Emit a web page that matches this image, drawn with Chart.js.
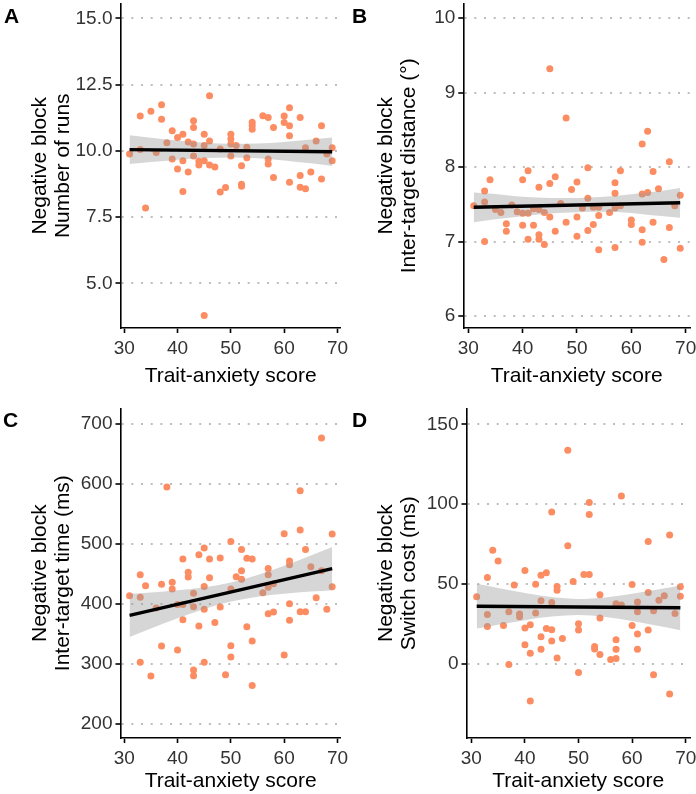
<!DOCTYPE html>
<html><head><meta charset="utf-8">
<script src="https://cdn.jsdelivr.net/npm/chart.js@4.4.1/dist/chart.umd.min.js"></script>
<style>
html,body{margin:0;padding:0;background:#fff;overflow:hidden;}
#wrap{position:relative;width:696px;height:794px;overflow:hidden;background:#fff;}
canvas{position:absolute;}
.lbl{position:absolute;font:bold 21px 'Liberation Sans',Arial,sans-serif;line-height:21px;color:#000;}
</style></head><body>
<div id="wrap">
<canvas id="cA" width="350" height="397" style="left:0px;top:0px"></canvas>
<canvas id="cB" width="346" height="397" style="left:350px;top:0px"></canvas>
<canvas id="cC" width="350" height="410" style="left:0px;top:397px"></canvas>
<canvas id="cD" width="346" height="410" style="left:350px;top:397px"></canvas>
<div class="lbl" style="left:4px;top:5px">A</div>
<div class="lbl" style="left:352px;top:5px">B</div>
<div class="lbl" style="left:3px;top:409px">C</div>
<div class="lbl" style="left:352px;top:409px">D</div>
</div>
<script>
// ---------- shared ----------
const xTickValues = [30, 40, 50, 60, 70];
const xTickLabels = ['30', '40', '50', '60', '70'];
const xTitle = 'Trait-anxiety score';
const fitX = [31, 35, 40, 45, 50, 55, 60, 65, 69];
const lineX = [31, 69];

// ---------- panel A: number of runs ----------
const aX = [31,33,33,34,35,36,37,37,38,39,39,40,40,41,41,41,42,42,43,43,43,43,44,44,45,45,45,45,46,46,46,47,48,48,49,50,50,50,50,51,52,52,52,53,53,54,54,54,56,57,57,57,58,58,60,60,61,61,61,61,63,63,63,64,64,65,66,67,67,68,69,69];
const aY = [9.88,11.32,10.05,7.85,11.5,9.94,11.74,11.19,10.31,10.76,9.69,10.51,9.32,10.63,9.63,8.47,10.34,9.2,11.14,10.88,10.26,9.81,9.61,9.47,10.63,10.2,9.63,3.79,12.08,10.37,9.47,9.39,10.07,8.45,8.62,10.63,10.45,10.26,9.81,10.2,9.44,8.74,8.67,10.14,9.74,11.08,10.96,10.82,11.33,11.26,9.69,9.51,10.88,9.0,11.32,11.07,11.63,10.95,10.57,8.82,11.26,9.07,8.63,10.12,8.57,9.2,10.37,10.95,8.94,9.88,10.12,9.63];
const aLine = [10.05, 9.97];
const aUpper = [10.59, 10.50, 10.39, 10.31, 10.27, 10.28, 10.34, 10.43, 10.51];
const aLower = [9.51, 9.58, 9.67, 9.73, 9.75, 9.72, 9.64, 9.53, 9.43];
const aTickValues = [5, 7.5, 10, 12.5, 15];
const aTickLabels = ['5.0', '7.5', '10.0', '12.5', '15.0'];
const aTitle = ['Negative block', 'Number of runs'];

// ---------- panel B: inter-target distance ----------
const bX = [31,33,33,33,34,35,36,37,37,38,39,40,40,40,41,41,41,42,42,43,43,43,43,44,44,45,45,45,46,46,47,48,48,49,50,50,50,51,52,52,52,53,53,54,54,54,56,57,57,57,57,58,58,60,60,62,62,62,62,63,63,64,64,65,66,67,67,68,69,69];
const bY = [7.48,7.68,7.53,7.00,7.83,7.43,7.39,7.24,7.14,7.49,7.40,7.83,7.38,7.22,7.95,7.38,7.03,7.44,7.22,7.73,7.43,7.09,7.03,7.39,6.96,9.32,7.78,7.33,7.87,7.14,7.51,8.66,7.26,7.70,7.80,7.33,7.07,7.45,7.99,7.58,7.15,7.46,7.23,7.46,7.35,6.89,7.39,7.79,7.65,7.45,6.92,7.95,7.48,7.29,7.23,8.31,7.64,7.16,6.99,8.48,7.66,7.94,7.26,7.71,6.76,8.07,7.19,7.48,7.62,6.91];
const bLine = [7.46, 7.52];
const bUpper = [7.66, 7.64, 7.60, 7.585, 7.585, 7.60, 7.635, 7.675, 7.72];
const bLower = [7.26, 7.30, 7.34, 7.375, 7.395, 7.40, 7.385, 7.345, 7.32];
const bTickValues = [6, 7, 8, 9, 10];
const bTickLabels = ['6', '7', '8', '9', '10'];
const bTitle = ['Negative block', 'Inter-target distance (°)'];

// ---------- panel C: inter-target time ----------
const cX = [31,33,33,33,34,35,36,37,37,38,39,39,40,40,41,41,41,42,42,43,43,43,43,44,44,45,45,45,45,46,46,47,48,48,49,50,50,50,50,51,52,52,52,53,53,54,54,54,56,57,57,57,57,58,58,60,60,61,61,61,61,63,63,63,64,64,65,66,67,67,68,69,69];
const cY = [413.9,448.9,411.1,302.8,430.6,280,393.3,432.8,330,595,436.1,425,399.4,323.3,475,399.4,373.9,452.8,445,417.8,395.6,290,280.6,482.2,363.3,493.3,429.4,391.1,302.8,475,443.9,369.4,476.7,395,282.2,504.4,425,330.6,311.7,445.6,491,455.6,441.1,476.1,362.2,475,338.3,264.4,418.9,459.4,448.9,427.8,383.9,433.9,386.7,517.2,315,471.7,465.6,400.6,372.8,588.9,523.3,387.2,491,387.2,462.2,410.6,676.7,455.6,391.1,516.7,428.9];
const cLine = [381, 459];
const cUpper = [417, 419.2, 422.8, 427.8, 436, 448.3, 463.8, 480.8, 495];
const cLower = [345, 359.2, 376.2, 391.6, 404, 412.1, 417.2, 420.8, 423];
const cTickValues = [200, 300, 400, 500, 600, 700];
const cTickLabels = ['200', '300', '400', '500', '600', '700'];
const cTitle = ['Negative block', 'Inter-target time (ms)'];

// ---------- panel D: switch cost ----------
const dX = [31,33,33,33,34,35,36,37,37,38,39,39,40,40,40,41,41,41,42,42,43,43,43,43,44,44,45,45,45,45,46,46,46,47,48,48,49,50,50,50,51,52,52,52,53,53,54,54,54,56,57,57,57,57,58,58,60,60,61,61,61,61,63,63,63,64,64,65,66,67,67,68,69,69];
const dY = [42.1,54.2,31.0,23.5,71.25,64.4,24.2,32.7,-0.2,49.4,31.25,29.6,58.5,22.5,12.1,24.6,6.7,-23.1,50.0,31.9,55.6,39.6,17.1,9.2,57.1,22.3,95.2,38.5,21.5,14.4,48.5,46.25,3.75,16.0,133.75,74.0,51.7,25.2,21.25,-5.2,56.0,101.0,93.5,56.0,11.0,9.4,43.3,28.75,6.0,2.9,37.7,15.2,9.2,3.5,105.2,36.9,49.8,24.2,38.75,32.7,18.75,9.2,76.6,44.8,21.25,33.3,-6.7,40.0,42.7,80.8,-18.75,31.7,48.3,42.5];
const dLine = [36.2, 35.2];
const dUpper = [50.2, 47.6, 44.45, 41.9, 40.7, 41.7, 43.95, 46.8, 49.2];
const dLower = [22.2, 24.6, 27.45, 29.7, 30.7, 29.5, 26.95, 23.8, 21.2];
const dTickValues = [0, 50, 100, 150];
const dTickLabels = ['0', '50', '100', '150'];
const dTitle = ['Negative block', 'Switch cost (ms)'];

// ---------- styling ----------
const FAMILY = "'Liberation Sans', Arial, sans-serif";
const POINT_COLOR = '#FC8D62';
const RIBBON = 'rgba(153,153,153,0.4)';
const TICK_FONT = {family: FAMILY, size: 19};
const TITLE_FONT = {family: FAMILY, size: 21, lineHeight: 1.08};

function pts(xs, ys) { return xs.map((x, i) => ({x: x, y: ys[i]})); }

function makePanel(id, d, g) {
  new Chart(document.getElementById(id), {
    type: 'scatter',
    data: {datasets: [
      {type: 'line', data: pts(lineX, d.line), borderColor: '#000', borderWidth: 3.4, pointRadius: 0, fill: false},
      {type: 'line', data: pts(fitX, d.upper), borderColor: 'rgba(0,0,0,0)', borderWidth: 0, pointRadius: 0,
       fill: '+1', backgroundColor: RIBBON, cubicInterpolationMode: 'monotone'},
      {type: 'line', data: pts(fitX, d.lower), borderColor: 'rgba(0,0,0,0)', borderWidth: 0, pointRadius: 0,
       fill: false, cubicInterpolationMode: 'monotone'},
      {type: 'scatter', data: pts(d.xs, d.ys), pointRadius: 3.5, pointHoverRadius: 3.5,
       backgroundColor: POINT_COLOR, pointBackgroundColor: POINT_COLOR, borderWidth: 0, pointBorderWidth: 0}
    ]},
    options: {
      responsive: false, animation: false, devicePixelRatio: 1,
      layout: {padding: {left: 0, right: g.padRight, top: g.padTop, bottom: 0}},
      plugins: {legend: {display: false}, tooltip: {enabled: false}},
      scales: {
        x: {
          type: 'linear', min: g.xMin, max: g.xMax,
          afterBuildTicks: s => { s.ticks = xTickValues.map(v => ({value: v})); },
          ticks: {font: TICK_FONT, color: '#333', padding: 4, maxRotation: 0, autoSkip: false,
                  callback: (v, i) => xTickLabels[i]},
          grid: {drawOnChartArea: false, drawTicks: true, tickLength: 5, tickColor: '#000', tickWidth: 1.6},
          border: {display: true, color: '#000', width: 1.6},
          title: {display: true, text: xTitle, font: TITLE_FONT, color: '#000', padding: {top: 0, bottom: g.xTitlePad}},
          afterFit: s => { s.height = g.xAxisH; s.paddingLeft = 0; s.paddingRight = 0; }
        },
        y: {
          type: 'linear', min: d.yMin, max: d.yMax,
          afterBuildTicks: s => { s.ticks = d.tickValues.map(v => ({value: v})); },
          ticks: {font: TICK_FONT, color: '#333', padding: 3, autoSkip: false,
                  callback: (v, i) => d.tickLabels[i]},
          grid: {display: true, drawOnChartArea: true, color: '#BDBDBD', lineWidth: 2,
                 drawTicks: true, tickLength: 5, tickColor: '#000', tickWidth: 1.6},
          border: {display: true, color: '#000', width: 1.6, dash: [2, 7.7]},
          title: {display: true, text: d.title, font: TITLE_FONT, color: '#000', padding: {top: g.titlePad, bottom: 0}},
          afterFit: s => { s.width = g.yAxisW; s.paddingTop = 0; s.paddingBottom = 0; }
        }
      }
    }
  });
}

makePanel('cA', {xs: aX, ys: aY, line: aLine, upper: aUpper, lower: aLower, tickValues: aTickValues, tickLabels: aTickLabels, title: aTitle, yMin: 3.32, yMax: 15.56},
  {xMin: 29.3, xMax: 70.6, padRight: 9.3, padTop: 0, xAxisH: 69, yAxisW: 120.5, titlePad: 28.7, xTitlePad: 9.7});
makePanel('cB', {xs: bX, ys: bY, line: bLine, upper: bUpper, lower: bLower, tickValues: bTickValues, tickLabels: bTickLabels, title: bTitle, yMin: 5.84, yMax: 10.195},
  {xMin: 29.08, xMax: 70.8, padRight: 6, padTop: 0, xAxisH: 69, yAxisW: 113.3, titlePad: 24.7, xTitlePad: 9.7});
makePanel('cC', {xs: cX, ys: cY, line: cLine, upper: cUpper, lower: cLower, tickValues: cTickValues, tickLabels: cTickLabels, title: cTitle, yMin: 176.7, yMax: 726.2},
  {xMin: 29.3, xMax: 70.6, padRight: 9.3, padTop: 11.3, xAxisH: 69, yAxisW: 120.5, titlePad: 28.7, xTitlePad: 14});
makePanel('cD', {xs: dX, ys: dY, line: dLine, upper: dUpper, lower: dLower, tickValues: dTickValues, tickLabels: dTickLabels, title: dTitle, yMin: -46.25, yMax: 160},
  {xMin: 29.1, xMax: 70.8, padRight: 6, padTop: 11.3, xAxisH: 69, yAxisW: 116.5, titlePad: 24.7, xTitlePad: 14});
</script>
</body></html>
